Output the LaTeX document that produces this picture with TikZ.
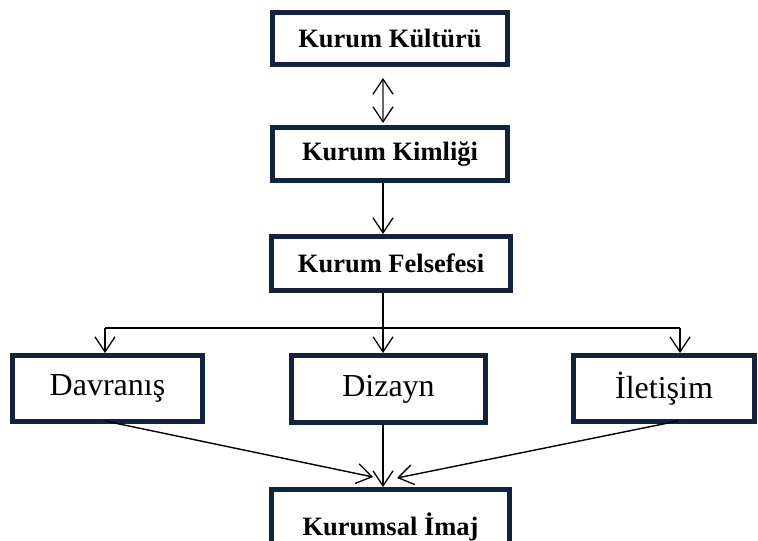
\documentclass[tikz,border=0pt]{standalone}
\usepackage{fontspec}
\setmainfont{Liberation Serif}
\usetikzlibrary{arrows.meta}
\definecolor{navy}{HTML}{12233F}
\begin{document}
\begin{tikzpicture}[x=1pt,y=-1pt,
  box/.style={draw=navy,line width=5pt,fill=white,inner sep=0pt,anchor=center},
  titlebox/.style={box,font=\bfseries\fontsize{26.5}{30}\selectfont},
  plainbox/.style={box,font=\fontsize{32}{36}\selectfont},
  link/.style={line width=1.4pt,-{Straight Barb[length=15pt,width=20pt,line width=1.3pt]}},
  bus/.style={line width=1.8pt}]
\useasboundingbox (0,0) rectangle (758,541);

\node[titlebox,minimum width=235pt,minimum height=52pt] (kultur) at (390,38.5) {Kurum Kültürü};
\node[titlebox,minimum width=235pt,minimum height=53pt] (kimlik) at (390,154) {Kurum Kimliği};
\node[titlebox,minimum width=239pt,minimum height=54pt] (felsefe) at (391,263.5) {Kurum Felsefesi};
\node[plainbox,minimum width=190pt,minimum height=66pt] (davranis) at (107.5,388.5) {Davranış};
\node[plainbox,minimum width=194pt,minimum height=67pt] (dizayn) at (388.5,389) {Dizayn};
\node[plainbox,minimum width=181pt,minimum height=66pt] (iletisim) at (664,388.5) {İletişim};
\node[box,minimum width=238pt,minimum height=69pt,font=\bfseries\fontsize{26.5}{30}\selectfont,
      text depth=0pt] (imaj) at (390.5,524) {Kurumsal İmaj};

% vertical axis and distribution bus
\coordinate (ax) at (383,0);
\coordinate (busL) at (105,328);
\coordinate (busM) at (383,328);
\coordinate (busR) at (680,328);
\coordinate (dOut) at (105,421);
\coordinate (iOut) at (678,421);
\coordinate (inL) at (373,477);
\coordinate (inR) at (397,478);

% culture <-> identity
\draw[line width=1.4pt,draw=black!60,
      {Straight Barb[length=15pt,width=20pt,line width=1.3pt,color=black]}-{Straight Barb[length=15pt,width=20pt,line width=1.3pt,color=black]},
      shorten <=11pt,shorten >=2pt] (kultur.south -| ax) -- (kimlik.north -| ax);
\draw[link] (kimlik.south -| ax) -- (felsefe.north -| ax);

% philosophy to the three channels
\draw[bus] (felsefe.south -| ax) -- (busM);
\draw[bus] (busL) -- (busR);
\draw[link] (busL) -- (davranis.north -| busL);
\draw[link] (busM) -- (dizayn.north -| ax);
\draw[link] (busR) -- (iletisim.north -| busR);

% channels to corporate image
\draw[link] (dOut) -- (inL);
\draw[link] (dizayn.south -| ax) -- (imaj.north -| ax);
\draw[link] (iOut) -- (inR);
\end{tikzpicture}
\end{document}
